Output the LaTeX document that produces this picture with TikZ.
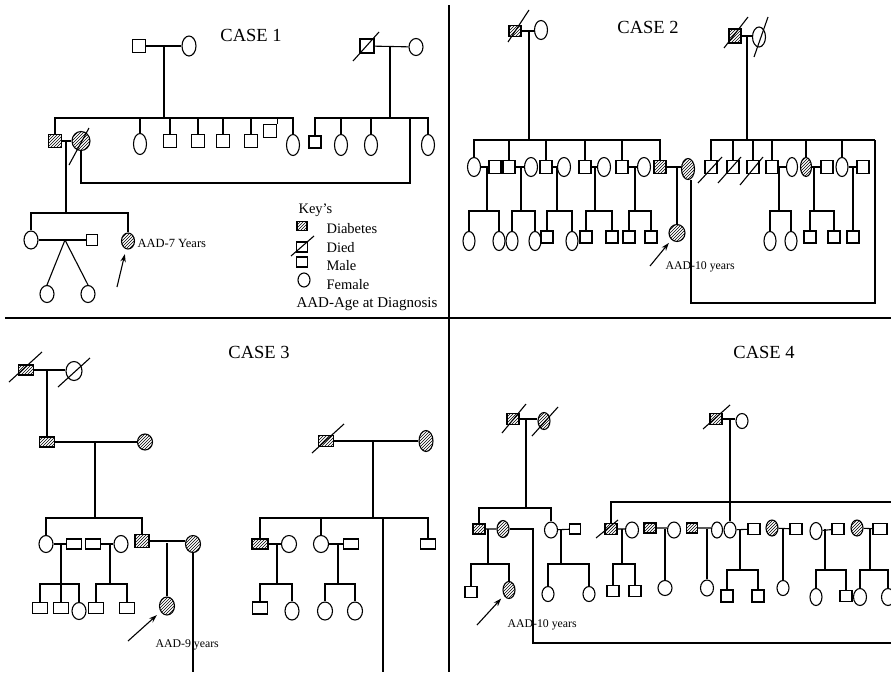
\documentclass[tikz,border=0pt]{standalone}
\usepackage{fontspec}
\setmainfont{Liberation Serif}
\usetikzlibrary{shapes.geometric,patterns,arrows.meta}
\newcommand{\ds}[3]{\draw ([shift={(#2)}]#1.center) -- ([shift={(#3)}]#1.center);}
\begin{document}
\begin{tikzpicture}[x=1pt,y=-1pt,line width=1.1pt,
 M/.style={draw,rectangle,inner sep=0pt,minimum width=12pt,minimum height=11pt},
 F/.style={draw,ellipse,inner sep=0pt,minimum width=13pt,minimum height=19pt},
 M2/.style={M,minimum width=12pt,minimum height=13pt},
 M3/.style={M,minimum width=15pt,minimum height=10pt},
 A/.style={pattern=north east lines},
 lbl/.style={anchor=base west,inner sep=0pt,font=\fontsize{11.8}{13}\selectfont},
 keytxt/.style={anchor=base west,inner sep=0pt,font=\fontsize{14.5}{16}\selectfont},
 ttl/.style={anchor=base,inner sep=0pt,font=\fontsize{18.5}{20}\selectfont},
 arr/.style={-{Stealth[length=8pt,width=5.5pt]},line width=1.1pt},
 divline/.style={line width=1.4pt}]
\useasboundingbox (0,0) rectangle (891,672);
\clip (0,0) rectangle (891,672);
% dividers
\coordinate (fv1) at (449,5); \coordinate (fv2) at (449,672);
\coordinate (fh1) at (5,318); \coordinate (fh2) at (891,318);
\draw[divline] (fv1) -- (fv2) (fh1) -- (fh2);

%%%%%%%% CASE 1
\node[ttl] (T1) at (251,41) {CASE 1};
\node[M,minimum size=13pt] (c1a) at (139,46) {};
\node[F,minimum width=14pt,minimum height=20pt] (c1b) at (189,46) {};
\draw (c1a) -- (c1b);
\coordinate (m1) at (164,46); \coordinate (s1) at (164,118);
\draw (m1) -- (s1);
\node[M,A,minimum size=13pt] (k1) at (55,141) {};
\node[F,A,minimum width=18pt,minimum height=19pt] (k1w) at (81,141) {};
\ds{k1w}{-12,24}{8,-13}
\node[F,minimum width=13pt,minimum height=21pt] (k2) at (140,144) {};
\node[M,minimum size=13pt] (k3) at (170,141) {};
\node[M,minimum size=13pt] (k4) at (198,141) {};
\node[M,minimum size=13pt] (k5) at (223,141) {};
\node[M,minimum size=13pt] (k6) at (251,141) {};
\node[M,minimum size=13pt] (k7) at (270,131) {};
\node[F,minimum width=13pt,minimum height=21pt] (k8) at (293,145) {};
\draw (s1) -| (k1) (s1) -| (k2) (s1) -| (k3) (s1) -| (k4) (s1) -| (k5) (s1) -| (k6) (s1) -| (k7.north east) (s1) -| (k8);
\draw (k1) -- (k1w);
\coordinate (m1b) at (66,141); \coordinate (g1s) at (66,213);
\draw (m1b) -- (g1s);
\coordinate (lp1) at (410,183); \coordinate (lp2) at (410,118);
\draw (k1w) |- (lp1) -- (lp2);
% right family
\node[M,minimum size=14pt] (c1c) at (367,46) {};
\ds{c1c}{-14,15}{12,-14}
\node[F,minimum width=14pt,minimum height=17pt] (c1d) at (416,47) {};
\draw (c1c) -- (c1d);
\coordinate (m2) at (390,46); \coordinate (s2) at (390,118);
\draw (m2) -- (s2);
\node[M,minimum size=12pt] (r1) at (315,142) {};
\node[F,minimum width=13pt,minimum height=21pt] (r2) at (341,145) {};
\node[F,minimum width=13pt,minimum height=21pt] (r3) at (371,145) {};
\node[F,minimum width=13pt,minimum height=21pt] (r4) at (428,145) {};
\draw (s2) -| (r1) (s2) -| (r2) (s2) -| (r3) (s2) -| (r4);
% generation 3
\node[F,minimum width=14pt,minimum height=18pt] (g1) at (31,240) {};
\node[M,minimum size=11pt] (g1h) at (92,240) {};
\draw (g1) -- (g1h);
\node[F,A,minimum width=13pt,minimum height=16pt] (g2) at (128,241) {};
\draw (g1s) -| (g1) (g1s) -| (g2);
\coordinate (tw) at (65,240);
\node[F,minimum width=14pt,minimum height=17pt] (g3) at (47,294) {};
\node[F,minimum width=14pt,minimum height=17pt] (g4) at (88,294) {};
\draw (tw) -- (g3.north) (tw) -- (g4.north);
\coordinate (ar1) at (117,287);
\draw[arr,shorten >=5pt] (ar1) -- (g2);
\node[lbl,font=\fontsize{12.5}{14}\selectfont] (L1) at (137,247) {AAD-7 Years};
% key
\node[keytxt] (K0) at (298,213) {Key’s};
\node[M,A,minimum width=10pt,minimum height=9pt] (kA) at (302,226) {};
\node[keytxt] (K1) at (326,233) {Diabetes};
\node[M,minimum width=11pt,minimum height=10pt] (kB) at (302,247) {};
\ds{kB}{-11,9}{12,-11}
\node[keytxt] (K2) at (326,252) {Died};
\node[M,minimum width=11pt,minimum height=10pt] (kC) at (302,262) {};
\node[keytxt] (K3) at (326,270) {Male};
\node[F,minimum width=12pt,minimum height=14pt] (kD) at (304,280) {};
\node[keytxt] (K4) at (326,289) {Female};
\node[keytxt,font=\fontsize{15}{17}\selectfont] (K5) at (296,307) {AAD-Age at Diagnosis};

%%%%%%%% CASE 2
\node[ttl] (T2) at (648,33) {CASE 2};
\node[M,A,minimum width=12pt,minimum height=11pt] (e2) at (515,31) {};
\ds{e2}{-7,11}{14,-21}
\node[F] (f2) at (541,30) {};
\draw (e2) -- (e2 -| f2.west);
\coordinate (m3) at (529,31); \coordinate (s3) at (529,140);
\draw (m3) -- (s3);
\node[F] (a1) at (474,167) {}; \node[M2] (a1h) at (495,167) {};
\node[M2] (a2) at (509,167) {}; \node[F] (a2h) at (531,167) {};
\node[M2] (a3) at (546,167) {}; \node[F] (a3h) at (564,167) {};
\node[M2] (a4) at (585,167) {}; \node[F] (a4h) at (604,167) {};
\node[M2] (a5) at (622,167) {}; \node[F] (a5h) at (644,167) {};
\node[M2,A] (a6) at (660,167) {}; \node[F,A,minimum height=21pt] (a6h) at (688,169) {};
\draw (s3) -| (a1) (s3) -| (a2) (s3) -| (a3) (s3) -| (a4) (s3) -| (a5) (s3) -| (a6);
\draw (a1) -- (a1h) (a2) -- (a2h) (a3) -- (a3h) (a4) -- (a4h) (a5) -- (a5h) (a6) -- (a6 -| a6h.west);
% grandchildren left
\coordinate (d21) at (487,167); \coordinate (e21) at (487,211);
\node[F,minimum width=12pt] (q1) at (469,241) {}; \node[F,minimum width=12pt] (q2) at (499,241) {};
\draw (d21) -- (e21) (e21) -| (q1) (e21) -| (q2);
\coordinate (d22) at (521,167); \coordinate (e22) at (521,211);
\node[F,minimum width=12pt] (q3) at (512,241) {}; \node[F,minimum width=12pt] (q4) at (535,241) {};
\draw (d22) -- (e22) (e22) -| (q3) (e22) -| (q4);
\coordinate (d23) at (557,167); \coordinate (e23) at (557,211);
\node[M,minimum height=12pt] (q5) at (547,237) {}; \node[F,minimum width=12pt] (q6) at (572,241) {};
\draw (d23) -- (e23) (e23) -| (q5) (e23) -| (q6);
\coordinate (d24) at (595,167); \coordinate (e24) at (595,211);
\node[M,minimum height=12pt] (q7) at (586,237) {}; \node[M,minimum height=12pt] (q8) at (612,237) {};
\draw (d24) -- (e24) (e24) -| (q7) (e24) -| (q8);
\coordinate (d25) at (635,167); \coordinate (e25) at (635,211);
\node[M,minimum height=12pt] (q9) at (629,237) {}; \node[M,minimum height=12pt] (q10) at (651,237) {};
\draw (d25) -- (e25) (e25) -| (q9) (e25) -| (q10);
\coordinate (d26) at (677,167);
\node[F,A,minimum width=16pt,minimum height=17pt] (q11) at (677,233) {};
\draw (d26) -- (q11);
\coordinate (lp3) at (875,303); \coordinate (lp4) at (875,140);
\draw ([xshift=3pt]a6h.south) |- (lp3) -- (lp4);
\coordinate (ar2) at (650,266);
\draw[arr,shorten >=4pt] (ar2) -- (q11);
\node[lbl] (L2) at (665,269) {AAD-10 years};
% right family
\node[M,A,minimum width=12pt,minimum height=14pt] (g2a) at (735,36) {};
\ds{g2a}{-11,12}{13,-19}
\node[F,minimum height=20pt] (h2a) at (759,37) {};
\ds{h2a}{-5,20}{9,-20}
\draw (g2a) -- (g2a -| h2a.west);
\coordinate (m4) at (747,36); \coordinate (s4) at (747,140);
\draw (m4) -- (s4);
\node[M2] (b1) at (711,167) {}; \ds{b1}{-13,16}{11,-10}
\node[M2] (b2) at (733,167) {}; \ds{b2}{-15,16}{8,-10}
\node[M2] (b3) at (753,167) {}; \ds{b3}{-13,18}{10,-10}
\node[M2] (b4) at (772,167) {}; \node[F,minimum width=11pt] (b4h) at (792,167) {};
\node[F,A,minimum width=11pt] (b5) at (806,167) {}; \node[M2] (b5h) at (827,167) {};
\node[F,minimum width=12pt] (b6) at (842,167) {}; \node[M2] (b6h) at (863,167) {};
\draw (s4) -| (b1) (s4) -| (b2) (s4) -| (b3) (s4) -| (b4) (s4) -| (b5) (s4) -| (b6) (s4) -- (lp4);
\draw (b4) -- (b4h) (b5) -- (b5h) (b6) -- (b6h);
\coordinate (d27) at (779,167); \coordinate (e27) at (779,211);
\node[F,minimum width=12pt] (q12) at (770,241) {}; \node[F,minimum width=12pt] (q13) at (791,241) {};
\draw (d27) -- (e27) (e27) -| (q12) (e27) -| (q13);
\coordinate (d28) at (814,167); \coordinate (e28) at (814,211);
\node[M,minimum height=12pt] (q14) at (810,237) {}; \node[M,minimum height=12pt] (q15) at (834,237) {};
\draw (d28) -- (e28) (e28) -| (q14) (e28) -| (q15);
\coordinate (d29) at (853,167);
\node[M,minimum height=12pt] (q16) at (853,237) {};
\draw (d29) -- (q16);

%%%%%%%% CASE 3
\node[ttl] (T3) at (259,358) {CASE 3};
\node[M3,A] (t1) at (26,370) {}; \ds{t1}{-17,12}{16,-18}
\node[F,minimum width=16pt,minimum height=19pt] (t2) at (74,371) {}; \ds{t2}{-16,16}{16,-13}
\draw (t1) -- (t1 -| t2.west);
\coordinate (m5) at (47,370);
\node[M3,A] (t3) at (47,442) {};
\draw (m5) -- (t3);
\node[F,A,minimum width=15pt,minimum height=16pt] (t3h) at (145,442) {};
\draw (t3) -- (t3h);
\coordinate (m6) at (95,442); \coordinate (s6) at (95,518);
\draw (m6) -- (s6);
\node[F,minimum width=14pt,minimum height=17pt] (u1) at (46,544) {};
\node[M3] (u1h) at (74,544) {};
\node[M3] (u2) at (93,544) {};
\node[F,minimum width=14pt,minimum height=17pt] (u2h) at (121,544) {};
\node[M,A,minimum width=14pt,minimum height=13pt] (u4) at (142,541) {};
\node[F,A,minimum width=15pt,minimum height=17pt] (u4h) at (193,544) {};
\draw (s6) -| (u1) (s6) -| (u4);
\draw (u1) -- (u1h) (u2) -- (u2h) (u4) -- (u4 -| u4h.west);
\coordinate (d31) at (61,544); \coordinate (e31) at (61,584);
\node[M3,minimum height=11pt] (n1) at (40,608) {};
\node[M3,minimum height=11pt] (n2) at (61,608) {};
\node[F,minimum width=14pt,minimum height=17pt] (n3) at (79,611) {};
\draw (d31) -- (e31) (e31) -| (n1) (e31) -- (n2) (e31) -| (n3);
\coordinate (d32) at (110,544); \coordinate (e32) at (110,584);
\node[M3,minimum height=11pt] (n4) at (96,608) {};
\node[M3,minimum height=11pt] (n5) at (127,608) {};
\draw (d32) -- (e32) (e32) -| (n4) (e32) -| (n5);
\coordinate (d33) at (167,543);
\node[F,A,minimum width=15pt,minimum height=18pt] (n6) at (167,606) {};
\draw (d33) -- (n6);
\coordinate (c3b) at (192,672);
\draw (u4h.south) -- (u4h.south |- c3b);
\coordinate (ar3) at (128,641);
\draw[arr,shorten >=5pt] (ar3) -- (n6);
\node[lbl] (L3) at (155,647) {AAD-9 years};
% right family
\node[M3,A,minimum height=11pt] (v1) at (326,441) {}; \ds{v1}{-14,12}{18,-17}
\node[F,A,minimum width=14pt,minimum height=21pt] (v1h) at (426,441) {};
\draw (v1) -- (v1h);
\coordinate (m7) at (373,441); \coordinate (s7) at (373,518);
\draw (m7) -- (s7);
\node[M3,A,minimum width=16pt] (w1) at (260,544) {};
\node[F,minimum width=15pt,minimum height=17pt] (w1h) at (289,544) {};
\node[F,minimum width=15pt,minimum height=17pt] (w2) at (321,544) {};
\node[M3] (w2h) at (351,544) {};
\node[M3] (w3) at (428,544) {};
\coordinate (c3c) at (383,672);
\draw (s7) -| (w1) (s7) -| (w2) (s7) -| (w3) (s7) -| (c3c);
\draw (w1) -- (w1h) (w2) -- (w2h);
\coordinate (d34) at (277,544); \coordinate (e34) at (277,584);
\node[M3,minimum height=12pt] (n7) at (260,608) {};
\node[F,minimum width=14pt,minimum height=18pt] (n8) at (292,611) {};
\draw (d34) -- (e34) (e34) -| (n7) (e34) -| (n8);
\coordinate (d35) at (338,544); \coordinate (e35) at (338,584);
\node[F,minimum width=15pt,minimum height=18pt] (n9) at (325,611) {};
\node[F,minimum width=15pt,minimum height=18pt] (n10) at (355,611) {};
\draw (d35) -- (e35) (e35) -| (n9) (e35) -| (n10);

%%%%%%%% CASE 4
\node[ttl] (T4) at (764,358) {CASE 4};
\node[M,A] (x1) at (513,419) {}; \ds{x1}{-11,14}{13,-15}
\node[F,A,minimum width=12pt,minimum height=17pt] (x1h) at (544,421) {}; \ds{x1h}{-12,15}{14,-14}
\draw (x1) -- (x1 -| x1h.west);
\coordinate (m8) at (526,419); \coordinate (s8) at (526,508);
\draw (m8) -- (s8);
\node[M,A,minimum height=10pt] (y1) at (479,529) {};
\node[F,A,minimum width=12pt,minimum height=17pt] (y1h) at (503,529) {};
\node[F,minimum width=13pt,minimum height=16pt] (y2) at (551,530) {};
\node[M,minimum width=11pt,minimum height=10pt] (y2h) at (575,529) {};
\draw (s8) -| (y1) (s8) -| (y2);
\draw (y1) -- (y1h) (y2) -- (y2h);
\coordinate (d41) at (488,529); \coordinate (e41) at (488,564);
\node[M] (o1) at (471,592) {};
\node[F,A,minimum width=12pt,minimum height=17pt] (o2) at (509,590) {};
\draw (d41) -- (e41) (e41) -| (o1) (e41) -| (o2);
\coordinate (lp5) at (533,529); \coordinate (lp6) at (891,643);
\draw (y1h) -- (lp5) |- (lp6);
\coordinate (d42) at (561,529); \coordinate (e42) at (561,564);
\node[F,minimum width=12pt,minimum height=15pt] (o3) at (548,594) {};
\node[F,minimum width=12pt,minimum height=15pt] (o4) at (589,594) {};
\draw (d42) -- (e42) (e42) -| (o3) (e42) -| (o4);
\coordinate (ar4) at (477,625);
\draw[arr,shorten >=4pt] (ar4) -- (o2);
\node[lbl] (L4) at (507,627) {AAD-10 years};
% right family
\node[M,A] (z1) at (716,419) {}; \ds{z1}{-13,10}{14,-14}
\node[F,minimum width=12pt,minimum height=15pt] (z1h) at (742,421) {};
\draw (z1) -- (z1 -| z1h.west);
\coordinate (m9) at (730,419);
\coordinate (s9) at (612,502); \coordinate (s9e) at (891,502);
\node[M,A] (p1) at (611,529) {}; \ds{p1}{-15,9}{7,-9}
\node[F,minimum width=13pt,minimum height=16pt] (p1h) at (632,530) {};
\node[M,A,minimum height=10pt] (p2) at (650,528) {};
\node[F,minimum width=13pt,minimum height=16pt] (p2h) at (674,530) {};
\node[M,A,minimum width=11pt,minimum height=10pt] (p3) at (692,528) {};
\node[F,minimum width=11pt,minimum height=16pt] (p3h) at (717,530) {};
\node[F,minimum width=12pt,minimum height=16pt] (p4) at (730,530) {};
\node[M] (p4h) at (754,529) {};
\node[F,A,minimum width=12pt,minimum height=16pt] (p5) at (772,528) {};
\node[M] (p5h) at (796,529) {};
\node[F,minimum width=12pt,minimum height=17pt] (p6) at (816,531) {};
\node[M] (p6h) at (838,529) {};
\node[F,A,minimum width=12pt,minimum height=16pt] (p7) at (857,528) {};
\node[M,minimum width=14pt] (p7h) at (880,529) {};
\draw (m9) -- (p4);
\draw (s9e) -| (p1);
\draw (p1) -- (p1 -| p1h.west) (p2) -- (p2 -| p2h.west) (p3) -- (p3 -| p3h.west) (p4) -- (p4h) (p5) -- (p5h) (p6) -- (p6h) (p7) -- (p7h);
\coordinate (d43) at (622,529); \coordinate (e43) at (622,564);
\node[M] (o5) at (613,591) {}; \node[M] (o6) at (635,591) {};
\draw (d43) -- (e43) (e43) -| (o5) (e43) -| (o6);
\coordinate (d44) at (665,529);
\node[F,minimum width=14pt,minimum height=15pt] (o7) at (665,588) {};
\draw (d44) -- (o7);
\coordinate (d45) at (707,529);
\node[F,minimum width=13pt,minimum height=16pt] (o8) at (707,588) {};
\draw (d45) -- (o8);
\coordinate (d46) at (740,529); \coordinate (e46) at (740,570);
\node[M,minimum height=12pt] (o9) at (727,596) {}; \node[M,minimum height=12pt] (o10) at (758,596) {};
\draw (d46) -- (e46) (e46) -| (o9) (e46) -| (o10);
\coordinate (d47) at (783,529);
\node[F,minimum width=12pt,minimum height=15pt] (o11) at (783,588) {};
\draw (d47) -- (o11);
\coordinate (d48) at (825,529); \coordinate (e48) at (825,570);
\node[F,minimum width=12pt,minimum height=17pt] (o12) at (816,597) {};
\node[M] (o13) at (846,596) {};
\draw (d48) -- (e48) (e48) -| (o12) (e48) -| (o13);
\coordinate (d49) at (870,529); \coordinate (e49) at (870,570);
\node[F,minimum width=13pt,minimum height=17pt] (o14) at (860,597) {};
\node[F,minimum width=13pt,minimum height=17pt] (o15) at (888,597) {};
\draw (d49) -- (e49) (e49) -| (o14) (e49) -| (o15);
\end{tikzpicture}
\end{document}
